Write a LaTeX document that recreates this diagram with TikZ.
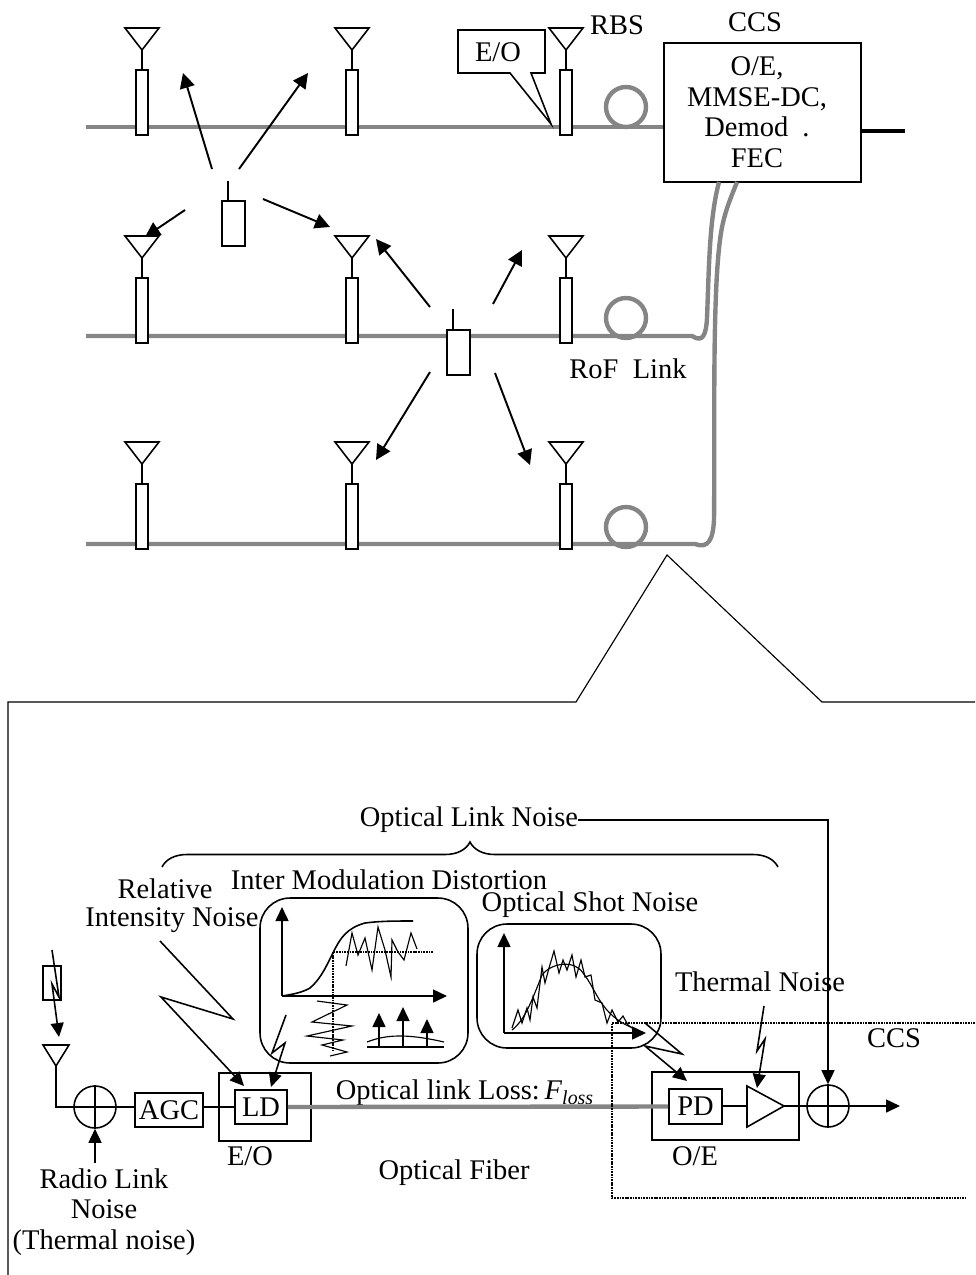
\documentclass[tikz,border=0pt]{standalone}
\usepackage{fontspec}
\setmainfont{Liberation Serif}
\usepackage{tikz}
\usetikzlibrary{positioning, arrows.meta, calc, decorations.pathreplacing}
\tikzset{
  every node/.style={font=\fontsize{16.2}{17.4}\selectfont, inner sep=0pt},
  fiber/.style={draw=black!48, line width=2.5pt},
  wire/.style={draw=black, line width=0.9pt},
  thinwire/.style={draw=black, line width=0.65pt},
  arr/.style={wire, -{Triangle[length=0.28cm,width=0.26cm]}},
  bigarr/.style={wire, line width=1.1pt, -{Triangle[length=0.3cm,width=0.3cm]}},
  dotline/.style={draw=black, line width=0.9pt, dash pattern=on 1pt off 0.5pt},
  tube/.style={draw, wire, fill=white, minimum width=0.24cm, minimum height=1.3cm, anchor=north},
  phone/.style={draw, wire, fill=white, minimum width=0.47cm, minimum height=0.9cm},
  coil/.style={circle, fiber, minimum size=0.8cm},
  blockbox/.style={draw, wire, fill=white},
  framebox/.style={draw, wire},
  noisebox/.style={draw, wire, rounded corners=0.6cm},
  sumnode/.style={circle, draw, wire, minimum size=0.84cm}
}
\begin{document}
\begin{tikzpicture}[x=0.02cm, y=-0.02cm]
  \useasboundingbox (0,0) rectangle (975,1275);

  \node[blockbox, minimum width=3.94cm, minimum height=2.78cm] (ccs) at (762.5,112.5) {};
  \node[align=center] (ccstext) at (757,112) {O/E,\\MMSE-DC,\\ Demod\ \ .\\FEC};
  \node (ccslabel) at (755,22) {CCS};
  \node (rbslabel) at (617,25) {RBS};
  \node (roflabel) at (628,369) {RoF\ \ Link};

  \coordinate (row1) at (86,127);
  \coordinate (row2) at (86,336);
  \coordinate (row3) at (86,544);
  \coordinate (ccsa) at (719,182);
  \coordinate (ccsb) at (737,182);
  \coordinate (ccsout) at (905,131);
  \draw[fiber] (row1) -- (ccs.west |- row1);
  \draw[fiber] (row2) -- (692,336) .. controls (703,343) and (706,335) .. (707,318) .. controls (709,270) and (709,220) .. (ccsa);
  \draw[fiber] (row3) -- (695,544) .. controls (708,549) and (713,540) .. (714,520) .. controls (715,440) and (712,300) .. (720,240) .. controls (723,215) and (730,200) .. (ccsb);
  \draw[line width=2pt] (ccs.east |- ccsout) -- (ccsout);

  \foreach \n/\x/\y in {a/142/69, b/352/69, c/566/69, d/142/277, e/352/277, f/566/277, g/142/483, h/352/483, i/566/483} {
    \node[tube] (tube\n) at (\x,\y) {};
    \draw[wire, line width=1.2pt] (tube\n.north) -- ++(0,-19) coordinate (apex\n);
    \draw[wire] (apex\n) -- ++(-17,-22) -- ++(34,0) -- cycle;
  }
  \node[coil] (coila) at (626,107) {};
  \node[coil] (coilb) at (626,318) {};
  \node[coil] (coilc) at (626,527) {};

  \coordinate (eotip) at (551,124);
  \draw[wire, fill=white] (458,30) -- (545,30) -- (545,73) -- (531,73) -- (eotip) -- (510,73) -- (458,73) -- cycle;
  \node (eolabel) at (498,52) {E/O};

  \node[phone] (phonea) at (233.5,223.5) {};
  \draw[thinwire] (phonea.north -| 228,0) -- (228,181);
  \node[phone] (phoneb) at (458.5,352.5) {};
  \draw[thinwire] (phoneb.north -| 453,0) -- (453,309);

  \foreach \n/\xa/\ya/\xb/\yb in {p/212/169/183/73, q/239/169/308/73, r/185/210/145/237, s/263/199/330/227, t/430/307/376/239, u/493/304/522/250, v/430/372/376/460, w/495/373/530/465} {
    \coordinate (from\n) at (\xa,\ya);
    \coordinate (to\n) at (\xb,\yb);
    \draw[bigarr] (from\n) -- (to\n);
  }

  \draw[thinwire] (8,1275) -- (8,702) -- (576,702) -- (667,555) -- (822,702) -- (975,702);

  \node (oln) at (469,820) {Optical Link Noise};
  \node (rel) at (165,889) {Relative};
  \node (rin) at (172,920) {Intensity Noise};
  \node (imd) at (389,880) {Inter Modulation Distortion};
  \node (osn) at (590,905) {Optical Shot Noise};
  \node (thn) at (760,982) {Thermal Noise};
  \node (ccsb2) at (894,1038) {CCS};
  \node (olloss) at (465,1093) {Optical link Loss:\,\textit{F}\textsubscript{\textit{loss}}};
  \node (eoname) at (250,1156) {E/O};
  \node (oename) at (695,1156) {O/E};
  \node (ofname) at (454,1173) {Optical Fiber};
  \node (rln) at (104,1212) [align=center] {Radio Link\\Noise\\(Thermal noise)};

  \coordinate (bracel) at (162,867);
  \coordinate (bracer) at (778,867);
  \draw[wire, decorate, decoration={brace, amplitude=0.5cm}] (bracel) -- (bracer);

  \node[noisebox, minimum width=4.16cm, minimum height=3.3cm] (imdbox) at (364,980.5) {};
  \node[noisebox, minimum width=3.68cm, minimum height=2.48cm] (osnbox) at (569,986) {};

  \coordinate (imdo) at (282,996);
  \draw[arr] (imdo) -- (282,907);
  \draw[arr] (imdo) -- (447,996);
  \draw[wire] (imdo) .. controls (295,994) and (303,992) .. (310,988) .. controls (322,978) and (328,962) .. (333,953) .. controls (340,938) and (347,928) .. (365,923) .. controls (380,921) and (395,921) .. (413,921);
  \draw[dotline] (433,952) -- (333,952) -- (333,1050);
  \draw[thinwire] (346,966) -- (352,933) -- (358,955) -- (365,938) -- (372,970) -- (378,927) -- (385,950) -- (391,977) -- (392,940) -- (398,952) -- (404,960) -- (411,933) -- (417,949);
  \draw[thinwire] (317,1001) -- (347,1005) -- (312,1022) -- (352,1026) -- (307,1036) -- (343,1040) -- (322,1045) -- (347,1052) -- (330,1056);
  \draw[wire] (367,1047) -- (444,1047);
  \draw[thinwire] (367,1042) .. controls (385,1035) and (405,1033) .. (444,1042);
  \draw[arr] (379,1047) -- (379,1013);
  \draw[arr] (403,1047) -- (403,1007);
  \draw[arr] (427,1047) -- (427,1019);

  \coordinate (osno) at (504,1033);
  \draw[arr] (osno) -- (504,933);
  \draw[arr] (osno) -- (646,1033);
  \draw[thinwire] (512,1030) .. controls (525,1020) and (532,1000) .. (542,975) .. controls (552,962) and (575,960) .. (583,973) .. controls (597,990) and (600,1015) .. (633,1028);
  \draw[thinwire] (512,1028) -- (518,1010) -- (522,1023) -- (527,1008) -- (530,1020) -- (533,997) -- (537,1008) -- (542,967) -- (545,983) -- (549,968) -- (554,951) -- (559,973) -- (563,960) -- (567,970) -- (572,955) -- (576,977) -- (581,960) -- (585,977) -- (591,975) -- (595,1000) -- (602,1003) -- (607,1023) -- (612,1010) -- (618,1022) -- (623,1016) -- (628,1025) -- (635,1030);

  \node[blockbox, minimum width=1.36cm, minimum height=0.68cm] (agc) at (169,1110) {AGC};
  \node[framebox, minimum width=1.84cm, minimum height=1.36cm] (eobox) at (265,1107) {};
  \node[blockbox, minimum width=1.04cm, minimum height=0.68cm] (ld) at (261,1107) {LD};
  \node[framebox, minimum width=2.94cm, minimum height=1.36cm] (oebox) at (725.5,1106) {};
  \node[blockbox, minimum width=1.06cm, minimum height=0.7cm] (pd) at (695.5,1106.5) {PD};
  \node[sumnode] (suml) at (95,1107) {};
  \node[sumnode] (sumr) at (828,1106) {};
  \draw[thinwire] (suml.north) -- (suml.south) (suml.west) -- (suml.east);
  \draw[thinwire] (sumr.north) -- (sumr.south) (sumr.west) -- (sumr.east);

  \coordinate (ampin) at (747,1106);
  \coordinate (amptip) at (784,1106);
  \draw[wire] (747,1086) -- (amptip) -- (747,1127) -- cycle;

  \draw[fiber] (ld.east) -- (pd.west);
  \draw[wire] (suml.east) -- (agc.west |- suml);
  \draw[wire] (agc.east |- ld) -- (ld.west);
  \draw[wire] (pd.east |- ampin) -- (ampin);
  \draw[wire, line width=1.3pt] (amptip) -- (sumr.west);

  \coordinate (ranttip) at (56,1066);
  \draw[wire] (43,1045) -- (69,1045) -- (ranttip) -- cycle;
  \draw[wire] (ranttip) |- (suml.west);
  \coordinate (rlnup) at (95,1163);
  \draw[arr] (rlnup) -- (suml.south);
  \coordinate (sumout) at (900,1106);
  \draw[arr] (sumr.east) -- (sumout);
  \draw[thinwire, -{Triangle[length=0.28cm,width=0.26cm]}] (oln.east) -| (sumr.north);

  \node[framebox, minimum width=0.36cm, minimum height=0.68cm] (rphone) at (52,983) {};
  \coordinate (boltastart) at (52,950);
  \coordinate (boltaend) at (59,1037);
  \draw[arr] (boltastart) -- (59,997) -- (52,984) -- (boltaend);

  \coordinate (boltbstart) at (160,941);
  \coordinate (boltbend) at (244,1086);
  \draw[arr] (boltbstart) -- (233,1019) -- (161,997) -- (boltbend);

  \coordinate (boltcstart) at (286,1015);
  \coordinate (boltcend) at (271,1087);
  \draw[arr] (boltcstart) -- (272,1053) -- (285,1043) -- (boltcend);

  \coordinate (boltdstart) at (645,1023);
  \coordinate (boltdend) at (687,1081);
  \draw[arr] (boltdstart) -- (682,1054) -- (645,1046) -- (boltdend);

  \coordinate (boltestart) at (764,1006);
  \coordinate (boltfinish) at (757,1088);
  \draw[arr] (boltestart) -- (757,1051) -- (765,1039) -- (boltfinish);

  \coordinate (ccsdottop) at (975,1023);
  \coordinate (ccsdotbot) at (966,1198);
  \draw[dotline] (ccsdottop) -- (612,1023) -- (612,1198) -- (ccsdotbot);
\end{tikzpicture}
\end{document}
